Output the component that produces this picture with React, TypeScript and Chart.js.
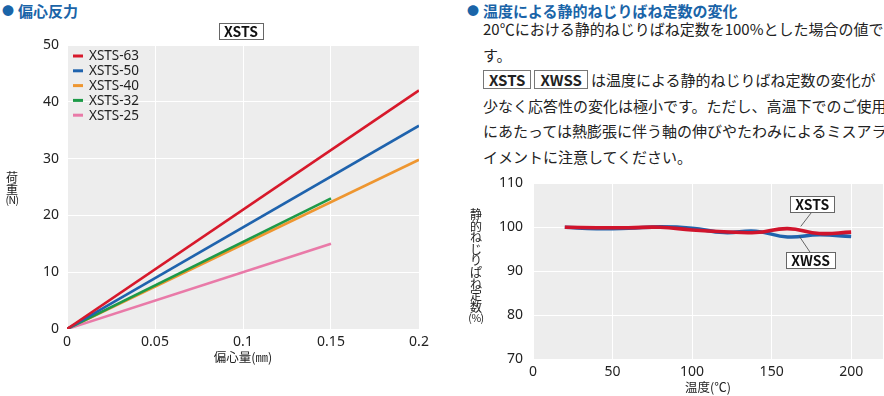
import React, { useEffect, useRef } from 'react';
import { Chart, registerables } from 'chart.js';

Chart.register(...registerables);

const FONT = '"Noto Sans CJK JP", "Noto Sans", sans-serif';
const NUMFONT = '"Noto Sans", "Noto Sans CJK JP", sans-serif';
Chart.defaults.font.family = NUMFONT;
Chart.defaults.color = '#222';

// ---- Left chart data (偏心反力) ----
const leftTitle = 'XSTS';
const leftXTitle = '偏心量(㎜)';
const leftYTitle = ['荷', '重', '(N)'];
const seriesLabels = ['XSTS-63', 'XSTS-50', 'XSTS-40', 'XSTS-32', 'XSTS-25'];
const seriesColors = ['#d7192b', '#1f63ad', '#ee9630', '#1d9a48', '#e97aa8'];
const offsetLong = [0, 0.2];
const offsetShort = [0, 0.15];
const load63 = [0, 42];
const load50 = [0, 35.8];
const load40 = [0, 29.8];
const load32 = [0, 23];
const load25 = [0, 15];
const leftXTicks = [0, 0.05, 0.1, 0.15, 0.2];

// ---- Right chart data (温度による変化) ----
const temps = [20, 40, 60, 80, 100, 120, 140, 160, 180, 200];
const xstsRatio = [100, 99.9, 99.9, 100, 99.4, 99.0, 98.8, 99.7, 98.6, 98.9];
const xwssRatio = [100, 99.7, 99.8, 100.1, 99.8, 98.8, 99.1, 97.8, 98.3, 97.9];
const rightSeries = ['XSTS', 'XWSS'];
const rightColors = ['#d0142c', '#1f63ad'];
const rightXTicks = [0, 50, 100, 150, 200];
const rightXTitle = '温度(℃)';
const rightYTitle = ['静', '的', 'ね', 'じ', 'り', 'ぱ', 'ね', '定', '数', '(%)'];

const PLOT_BG = '#ededed';

const bgPlugin = {
  id: 'plotBg',
  beforeDraw(chart: any) {
    const { ctx, chartArea: a } = chart;
    ctx.save();
    ctx.fillStyle = PLOT_BG;
    ctx.fillRect(a.left, a.top, a.right - a.left, a.bottom - a.top);
    ctx.restore();
  },
};

function drawBox(ctx: any, text: string, cx: number, cy: number, font: string) {
  ctx.save();
  ctx.font = font;
  const w = ctx.measureText(text).width + 10;
  const h = 16;
  ctx.fillStyle = '#fff';
  ctx.fillRect(cx - w / 2, cy - h / 2, w, h);
  ctx.strokeStyle = '#666';
  ctx.lineWidth = 1;
  ctx.strokeRect(Math.round(cx - w / 2) + 0.5, Math.round(cy - h / 2) + 0.5, Math.round(w), h);
  ctx.fillStyle = '#111';
  ctx.textAlign = 'center';
  ctx.textBaseline = 'middle';
  ctx.fillText(text, cx, cy + 0.5);
  ctx.restore();
}

const leftDecor = {
  id: 'leftDecor',
  afterDatasetsDraw(chart: any) {
    const { ctx, chartArea: a } = chart;
    drawBox(ctx, leftTitle, (a.left + a.right) / 2 - 2, a.top - 14, `bold 14px ${FONT}`);
    ctx.save();
    chart.data.datasets.forEach((ds: any, i: number) => {
      const y = a.top + 11 + i * 14.8;
      ctx.strokeStyle = ds.borderColor;
      ctx.lineWidth = 3;
      ctx.beginPath();
      ctx.moveTo(a.left + 6, y);
      ctx.lineTo(a.left + 16, y);
      ctx.stroke();
      ctx.fillStyle = '#222';
      ctx.font = `13.5px ${NUMFONT}`;
      ctx.textAlign = 'left';
      ctx.textBaseline = 'middle';
      ctx.fillText(ds.label, a.left + 22, y + 0.5);
    });
    ctx.restore();
  },
};

// annotation anchors in data units
const notes = [
  { text: 'XSTS', box: [175.5, 105.2], from: [175.3, 103.5], to: [168.3, 100.2] },
  { text: 'XWSS', box: [174.5, 92.5], from: [174.2, 94.3], to: [167.5, 97.9] },
];

const rightDecor = {
  id: 'rightDecor',
  afterDatasetsDraw(chart: any) {
    const { ctx } = chart;
    const xs = chart.scales.x;
    const ys = chart.scales.y;
    notes.forEach((n) => {
      ctx.save();
      ctx.strokeStyle = '#444';
      ctx.lineWidth = 0.8;
      ctx.beginPath();
      ctx.moveTo(xs.getPixelForValue(n.from[0]), ys.getPixelForValue(n.from[1]));
      ctx.lineTo(xs.getPixelForValue(n.to[0]), ys.getPixelForValue(n.to[1]));
      ctx.stroke();
      ctx.restore();
      drawBox(ctx, n.text, xs.getPixelForValue(n.box[0]), ys.getPixelForValue(n.box[1]), `bold 14px ${FONT}`);
    });
  },
};

const fmt = (v: any) => String(Number(Number(v).toFixed(2)));

function LeftChart() {
  const ref = useRef<HTMLCanvasElement>(null);
  useEffect(() => {
    const pts = (xs: number[], ys: number[]) => xs.map((x, i) => ({ x, y: ys[i] }));
    const dataSets = [
      pts(offsetLong, load63),
      pts(offsetLong, load50),
      pts(offsetLong, load40),
      pts(offsetShort, load32),
      pts(offsetShort, load25),
    ];
    const chart = new Chart(ref.current!, {
      type: 'line',
      data: {
        datasets: dataSets.map((d, i) => ({
          label: seriesLabels[i],
          data: d,
          borderColor: seriesColors[i],
          backgroundColor: seriesColors[i],
          borderWidth: 2.6,
          pointRadius: 0,
          order: i < 2 ? 0 : i === 2 ? 2 : 1,
        })),
      },
      options: {
        animation: false,
        responsive: false,
        layout: { padding: { top: 45, right: 21, bottom: 27, left: 0 } },
        plugins: { legend: { display: false }, tooltip: { enabled: false } },
        scales: {
          x: {
            type: 'linear',
            min: 0,
            max: 0.2,
            afterBuildTicks: (s: any) => { s.ticks = leftXTicks.map((v) => ({ value: v })); },
            ticks: { autoSkip: false, padding: 5, font: { size: 14 }, color: '#222', callback: (v: any) => fmt(v) },
            grid: { color: '#ffffff', lineWidth: 1, drawTicks: false },
            border: { display: false },
            title: { display: true, text: leftXTitle, font: { size: 12.5, family: FONT }, color: '#222', padding: { top: 0, bottom: 4 } },
            afterFit: (s: any) => { s.height = 40; },
          },
          y: {
            min: 0,
            max: 50,
            ticks: { stepSize: 10, padding: 8, font: { size: 14 }, color: '#222' },
            grid: { color: '#ffffff', lineWidth: 1, drawTicks: false },
            border: { display: false },
            afterFit: (s: any) => { s.width = 67; },
          },
        },
      },
      plugins: [bgPlugin, leftDecor],
    });
    return () => chart.destroy();
  }, []);
  return <canvas ref={ref} width={440} height={396} style={{ position: 'absolute', left: 0, top: 0 }} />;
}

function RightChart() {
  const ref = useRef<HTMLCanvasElement>(null);
  useEffect(() => {
    const series = [xstsRatio, xwssRatio];
    const chart = new Chart(ref.current!, {
      type: 'line',
      data: {
        datasets: series.map((s, i) => ({
          label: rightSeries[i],
          data: temps.map((t, j) => ({ x: t, y: s[j] })),
          borderColor: rightColors[i],
          borderWidth: 3.6,
          pointRadius: 0,
          tension: 0.45,
        })),
      },
      options: {
        animation: false,
        responsive: false,
        layout: { padding: { top: 13, right: 1, bottom: 0, left: 0 } },
        plugins: { legend: { display: false }, tooltip: { enabled: false } },
        scales: {
          x: {
            type: 'linear',
            min: 0,
            max: 220,
            afterBuildTicks: (s: any) => { s.ticks = rightXTicks.map((v) => ({ value: v })); },
            ticks: { autoSkip: false, padding: 5, font: { size: 14 }, color: '#222' },
            grid: { color: '#ffffff', lineWidth: 1, drawTicks: false },
            border: { display: false },
            title: { display: true, text: rightXTitle, font: { size: 12.5, family: FONT }, color: '#222', padding: { top: 0, bottom: 1 } },
            afterFit: (s: any) => { s.height = 37; },
          },
          y: {
            min: 70,
            max: 110,
            ticks: { stepSize: 10, padding: 10, font: { size: 14 }, color: '#222' },
            grid: { color: '#ffffff', lineWidth: 1, drawTicks: false },
            border: { display: false },
            afterFit: (s: any) => { s.width = 93; },
          },
        },
      },
      plugins: [bgPlugin, rightDecor],
    });
    return () => chart.destroy();
  }, []);
  return <canvas ref={ref} width={444} height={231} style={{ position: 'absolute', left: 440, top: 165 }} />;
}

const headStyle: React.CSSProperties = {
  position: 'absolute',
  top: 0,
  fontFamily: FONT,
  fontWeight: 'bold',
  fontSize: 15,
  lineHeight: '21px',
  color: '#1a64a8',
  whiteSpace: 'nowrap',
};

const bulletStyle: React.CSSProperties = { fontSize: 12, marginRight: 4, verticalAlign: '1px' };

const boxStyle: React.CSSProperties = {
  display: 'inline-block',
  border: '1px solid #777',
  fontWeight: 'bold',
  padding: '0 5px',
  lineHeight: '17px',
  marginRight: 3,
};

function VTitle({ chars, left, top, step }: { chars: string[]; left: number; top: number; step: number }) {
  return (
    <div style={{ position: 'absolute', left, top, width: 20, color: '#222', fontFamily: FONT }}>
      {chars.map((c, i) => (
        <div
          key={i}
          style={{
            display: 'block',
            height: step,
            lineHeight: `${step}px`,
            fontSize: c.length > 1 ? 10.5 : 12,
            letterSpacing: c.length > 1 ? -0.5 : 0,
            textAlign: 'center',
            whiteSpace: 'nowrap',
          }}
        >
          {c}
        </div>
      ))}
    </div>
  );
}

export default function App() {
  useEffect(() => {
    document.body.style.margin = '0';
  }, []);
  return (
    <div style={{ position: 'relative', width: 884, height: 396, background: '#fff', overflow: 'hidden', fontFamily: FONT }}>
      <div style={{ ...headStyle, left: 2 }}>
        <span style={bulletStyle}>●</span>偏心反力
      </div>
      <div style={{ ...headStyle, left: 467 }}>
        <span style={bulletStyle}>●</span>温度による静的ねじりばね定数の変化
      </div>
      <div
        style={{
          position: 'absolute',
          left: 483,
          top: 16,
          fontSize: 15,
          lineHeight: '25.5px',
          color: '#222',
          whiteSpace: 'nowrap',
        }}
      >
        20℃における静的ねじりばね定数を100%とした場合の値で
        <br />
        す。
        <br />
        <span style={boxStyle}>XSTS</span>
        <span style={boxStyle}>XWSS</span>は温度による静的ねじりばね定数の変化が
        <br />
        少なく応答性の変化は極小です。ただし、高温下でのご使用
        <br />
        にあたっては熱膨張に伴う軸の伸びやたわみによるミスアラ
        <br />
        イメントに注意してください。
      </div>
      <LeftChart />
      <RightChart />
      <VTitle chars={leftYTitle} left={2} top={171} step={11.5} />
      <VTitle chars={rightYTitle} left={466} top={208} step={11.6} />
    </div>
  );
}
